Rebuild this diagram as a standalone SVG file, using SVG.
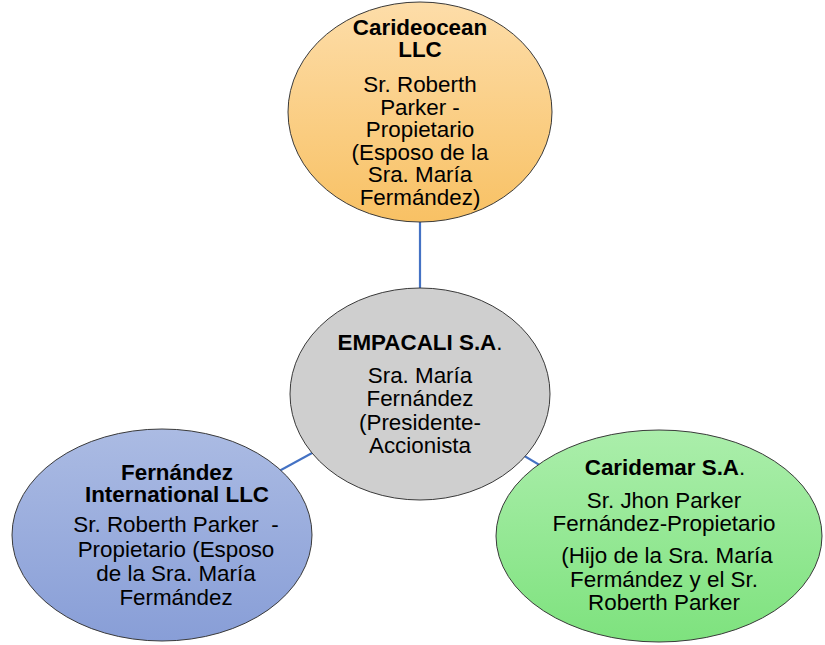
<svg xmlns="http://www.w3.org/2000/svg" width="825" height="645" viewBox="0 0 825 645">
<style>
text{font-family:"Liberation Sans",Arial,sans-serif;font-size:22.4px;fill:#000;text-anchor:middle}
.b{font-weight:bold}
.node ellipse{stroke:#3a3a3a;stroke-width:1}
.conn line{stroke:#4472C4;stroke-width:2.2}
</style>
<defs>
<linearGradient id="gO" x1="0" y1="0" x2="0" y2="1"><stop offset="0" stop-color="#fddda9"/><stop offset="1" stop-color="#f8c164"/></linearGradient>
<linearGradient id="gB" x1="0" y1="0" x2="0" y2="1"><stop offset="0" stop-color="#abbbe3"/><stop offset="1" stop-color="#889ed7"/></linearGradient>
<linearGradient id="gG" x1="0" y1="0" x2="0" y2="1"><stop offset="0" stop-color="#abeeab"/><stop offset="1" stop-color="#7ee27e"/></linearGradient>
</defs>
<rect width="825" height="645" fill="#fff"/>
<g class="conn">
<line x1="420" y1="112" x2="420" y2="394"/>
<line x1="162" y1="535" x2="420" y2="394"/>
<line x1="659" y1="536" x2="420" y2="394"/>
</g>
<g id="carideocean" class="node">
<ellipse cx="420" cy="112" rx="132" ry="110" fill="url(#gO)"/>
<text class="b" x="420" y="35">Carideocean</text>
<text class="b" x="420" y="57">LLC</text>
<text x="420" y="92">Sr. Roberth</text>
<text x="420" y="114.5">Parker -</text>
<text x="420" y="137">Propietario</text>
<text x="420" y="159.5">(Esposo de la</text>
<text x="420" y="182">Sra. María</text>
<text x="420" y="204.5">Fermández)</text>
</g>
<g id="empacali" class="node">
<ellipse cx="420" cy="394" rx="130" ry="106" fill="#cfcfcf"/>
<text x="420" y="350"><tspan class="b">EMPACALI S.A</tspan>.</text>
<text x="420" y="383">Sra. María</text>
<text x="420" y="406">Fernández</text>
<text x="420" y="429.5">(Presidente-</text>
<text x="420" y="453">Accionista</text>
</g>
<g id="fernandez" class="node">
<ellipse cx="162" cy="535" rx="150" ry="106" fill="url(#gB)"/>
<text class="b" x="177" y="480">Fernández</text>
<text class="b" x="177" y="502">International LLC</text>
<text x="176" y="532" xml:space="preserve">Sr. Roberth Parker  -</text>
<text x="176" y="557">Propietario (Esposo</text>
<text x="176" y="581">de la Sra. María</text>
<text x="176" y="605">Fermández</text>
</g>
<g id="caridemar" class="node">
<ellipse cx="659" cy="536" rx="163" ry="106" fill="url(#gG)"/>
<text x="665" y="475"><tspan class="b">Caridemar S.A</tspan>.</text>
<text x="664" y="508">Sr. Jhon Parker</text>
<text x="664" y="531">Fernández-Propietario</text>
<text x="667" y="563">(Hijo de la Sra. María</text>
<text x="664" y="587">Fermández y el Sr.</text>
<text x="664" y="610">Roberth Parker</text>
</g>
</svg>
